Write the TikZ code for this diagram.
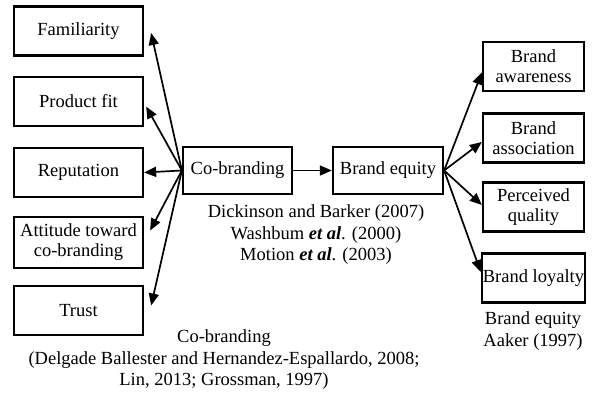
\documentclass[tikz,border=0pt]{standalone}
\usepackage{fontspec}
\setmainfont{Liberation Serif}
\usepackage{tikz}
\usetikzlibrary{positioning,calc,arrows.meta}

\begin{document}
\begin{tikzpicture}[x=1pt,y=-1pt,
    box/.style={draw,line width=2.3pt,inner sep=1pt,align=center,font=\fontsize{18.5}{20}\selectfont},
    lbox/.style={box,minimum width=129pt,minimum height=49pt},
    rbox/.style={box,minimum width=101pt,minimum height=49pt},
    cite/.style={align=center,font=\fontsize{18.5}{21.5}\selectfont},
    arr/.style={line width=1.7pt,-{Triangle[length=12pt,width=10pt]}}]
    \useasboundingbox (0,0) rectangle (593,398);

    % Co-branding factors
    \node[lbox] (fam) at (78.5,31) {Familiarity};
    \node[lbox] (prod) at (78.5,101.5) {Product fit};
    \node[lbox] (rep) at (78.5,172.5) {Reputation};
    \node[lbox,minimum height=51pt] (att) at (78.5,242.5) {Attitude toward\\co-branding};
    \node[lbox] (trust) at (78.5,310.5) {Trust};

    % middle
    \node[box,minimum width=109pt,minimum height=47pt] (cob) at (237.5,170.5) {Co-branding};
    \node[box,minimum width=110pt,minimum height=47pt] (be) at (388,170.5) {Brand equity};

    % Brand equity dimensions
    \node[rbox] (aw) at (533.5,66.5) {Brand\\awareness};
    \node[rbox] (as) at (533.5,138) {Brand\\association};
    \node[rbox] (pq) at (533.5,207) {Perceived\\quality};
    \node[rbox] (bl) at (533.5,278) {Brand loyalty};

    % sources
    \node[cite] (src1) at (316,235) {Dickinson and Barker (2007)\\Washbum \textbf{\textit{et al}}. (2000)\\Motion \textbf{\textit{et al}}. (2003)};
    \node[cite] (src2) at (224,360) {Co-branding\\(Delgade Ballester and Hernandez-Espallardo, 2008;\\Lin, 2013; Grossman, 1997)};
    \node[cite] (src3) at (533,331) {Brand equity\\Aaker (1997)};

    % arrows
    \draw[arr] (cob.west) -- ([xshift=7pt,yshift=-2pt]fam.east);
    \draw[arr] (cob.west) -- ([xshift=2pt,yshift=-5pt]prod.east);
    \draw[arr] (cob.west) -- (rep.east);
    \draw[arr] (cob.west) -- ([xshift=6pt,yshift=12pt]att.east);
    \draw[arr] (cob.west) -- ([xshift=7pt,yshift=5pt]trust.east);
    \draw[arr] (cob.east) -- (be.west);
    \draw[arr] (be.east) -- ([yshift=-6pt]aw.west);
    \draw[arr] (be.east) -- ([yshift=-4pt]as.west);
    \draw[arr] (be.east) -- ([yshift=2pt]pq.west);
    \draw[arr] (be.east) -- ([yshift=6pt]bl.west);
\end{tikzpicture}
\end{document}
